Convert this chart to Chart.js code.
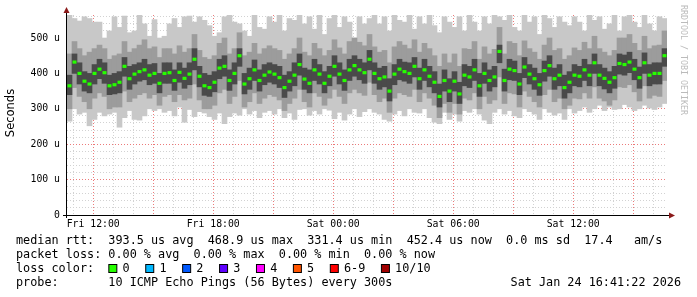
<!DOCTYPE html>
<html>
<head>
<meta charset="utf-8">
<script src="https://cdn.jsdelivr.net/npm/chart.js@4.4.1/dist/chart.umd.min.js"></script>
<style>
    html, body { margin: 0; padding: 0; background: #ffffff; }
    canvas { display: block; }
</style>
</head>
<body>
<canvas id="smokeChart" width="697" height="297"></canvas>
<script>
"use strict";

// time axis in minutes since Fri 00:00, one sample every 15 minutes
var startMin = 641.37; // Fri 10:41:22
var spanMin = 1800;
var stepMin = 15;

// median rtt (us)
var median = [
    365, 432, 400, 378, 370, 400, 412, 402, 365, 368,
    375, 420, 385, 398, 405, 410, 395, 400, 372, 400,
    402, 380, 403, 386, 398, 440, 392, 365, 360, 375,
    415, 420, 380, 400, 450, 370, 385, 410, 380, 395,
    404, 398, 388, 360, 378, 395, 425, 384, 372, 410,
    398, 372, 392, 420, 398, 380, 410, 422, 410, 402,
    440, 400, 385, 390, 350, 398, 412, 405, 400, 420,
    385, 410, 392, 375, 335, 380, 350, 378, 342, 395,
    390, 410, 365, 400, 380, 390, 462, 380, 412, 408,
    370, 418, 398, 385, 368, 408, 422, 385, 395, 360,
    375, 395, 392, 410, 395, 430, 395, 386, 375, 388,
    428, 425, 432, 412, 388, 430, 395, 400, 400, 450
];

// smoke: inner (dark) band
var innerHi = [
    395, 455, 430, 405, 400, 425, 440, 430, 395, 400,
    405, 445, 420, 425, 430, 440, 425, 428, 400, 430,
    430, 410, 430, 415, 430, 470, 420, 400, 395, 405,
    440, 450, 410, 430, 470, 400, 415, 438, 410, 425,
    430, 425, 420, 395, 405, 430, 455, 415, 410, 440,
    425, 405, 420, 450, 430, 410, 440, 450, 440, 430,
    465, 430, 415, 420, 385, 425, 440, 432, 430, 445,
    415, 440, 420, 405, 370, 410, 385, 405, 375, 425,
    420, 440, 400, 430, 410, 420, 480, 412, 440, 435,
    400, 445, 425, 415, 400, 435, 450, 415, 425, 395,
    405, 425, 420, 440, 425, 455, 425, 415, 405, 420,
    455, 452, 460, 440, 418, 458, 425, 430, 430, 470
];
var innerLo = [
    340, 400, 370, 350, 345, 370, 385, 372, 340, 342,
    345, 392, 355, 370, 378, 382, 368, 372, 345, 372,
    372, 352, 375, 358, 368, 410, 362, 338, 335, 348,
    385, 392, 352, 370, 420, 342, 355, 380, 350, 368,
    375, 370, 360, 332, 350, 365, 395, 355, 345, 380,
    370, 345, 365, 392, 370, 352, 380, 392, 382, 372,
    410, 372, 355, 362, 322, 368, 382, 378, 372, 390,
    355, 380, 362, 345, 305, 350, 320, 350, 315, 365,
    360, 380, 335, 372, 350, 362, 430, 350, 382, 380,
    340, 388, 370, 355, 338, 378, 392, 355, 365, 330,
    345, 365, 362, 380, 365, 400, 365, 356, 345, 358,
    398, 395, 402, 382, 358, 400, 365, 370, 370, 420
];

// smoke: middle band
var midHi = [
    455, 490, 470, 450, 460, 470, 480, 470, 440, 450,
    455, 490, 460, 470, 480, 495, 470, 475, 445, 470,
    470, 455, 478, 460, 470, 510, 465, 445, 440, 450,
    485, 500, 455, 470, 515, 450, 460, 485, 455, 470,
    478, 470, 465, 440, 455, 470, 500, 460, 450, 485,
    470, 450, 465, 495, 472, 455, 490, 500, 488, 478,
    510, 475, 460, 465, 430, 475, 490, 480, 470, 495,
    460, 485, 470, 450, 420, 455, 430, 455, 420, 470,
    468, 490, 440, 475, 455, 468, 530, 455, 490, 485,
    450, 492, 470, 460, 440, 480, 500, 465, 470, 440,
    450, 472, 465, 488, 470, 505, 470, 460, 450, 465,
    500, 500, 510, 485, 465, 505, 470, 478, 480, 520
];
var midLo = [
    300, 360, 335, 320, 300, 330, 345, 335, 300, 305,
    305, 350, 320, 330, 340, 345, 330, 340, 310, 335,
    340, 320, 340, 325, 330, 370, 325, 300, 300, 310,
    345, 355, 315, 335, 380, 305, 320, 345, 315, 330,
    340, 335, 325, 295, 315, 330, 355, 320, 305, 345,
    335, 310, 330, 355, 335, 315, 345, 355, 345, 338,
    375, 340, 320, 330, 290, 330, 345, 340, 335, 355,
    320, 345, 330, 310, 275, 315, 290, 315, 285, 330,
    325, 345, 300, 335, 315, 325, 390, 315, 345, 342,
    305, 350, 335, 320, 305, 340, 355, 320, 330, 300,
    310, 330, 328, 345, 330, 362, 330, 322, 310, 325,
    362, 360, 368, 348, 322, 365, 330, 338, 335, 380
];

// smoke: outer (light) band
var outerHi = [
    565, 555, 548, 560, 555, 545, 545, 500, 520, 560,
    530, 562, 515, 520, 565, 540, 505, 552, 500, 505,
    540, 555, 530, 560, 562, 545, 560, 550, 535, 505,
    515, 560, 565, 545, 540, 520, 505, 565, 530, 525,
    560, 545, 565, 520, 555, 550, 565, 540, 560, 525,
    565, 510, 555, 565, 530, 560, 545, 500, 560, 540,
    555, 565, 540, 560, 520, 565, 550, 545, 565, 525,
    560, 540, 565, 535, 515, 560, 545, 530, 560, 520,
    565, 545, 520, 560, 540, 565, 560, 550, 565, 530,
    520, 565, 545, 560, 510, 565, 555, 530, 560, 545,
    535, 560, 545, 520, 565, 550, 560, 525, 540, 565,
    520, 560, 565, 545, 530, 565, 540, 520, 560, 555
];
var outerLo = [
    265, 300, 285, 290, 252, 270, 290, 280, 285, 290,
    248, 275, 295, 270, 268, 280, 300, 295, 300, 290,
    295, 280, 305, 262, 298, 278, 292, 288, 278, 270,
    288, 258, 278, 288, 282, 300, 285, 295, 275, 290,
    295, 285, 300, 275, 288, 270, 298, 300, 282, 295,
    285, 300, 296, 272, 290, 268, 285, 300, 278, 292,
    300, 290, 285, 270, 265, 285, 295, 280, 300, 290,
    288, 300, 275, 262, 258, 290, 270, 285, 265, 295,
    290, 300, 285, 268, 258, 290, 300, 285, 295, 280,
    275, 300, 292, 285, 270, 300, 290, 282, 288, 270,
    300, 288, 295, 305, 290, 300, 310, 295, 305, 298,
    300, 312, 305, 295, 300, 310, 302, 298, 305, 315
];

var lossColors = ["#26ff00", "#00b8ff", "#0059ff", "#5e00ff", "#ff00ff", "#ff5500", "#ff0000", "#a00000"];
var lossLabels = ["0", "1", "2", "3", "4", "5", "6-9", "10/10"];

var legendLines = [
    "median rtt:  393.5 us avg  468.9 us max  331.4 us min  452.4 us now  0.0 ms sd  17.4   am/s",
    "packet loss: 0.00 % avg  0.00 % max  0.00 % min  0.00 % now",
    "loss color:",
    "probe:       10 ICMP Echo Pings (56 Bytes) every 300s"
];
var stampText = "Sat Jan 24 16:41:22 2026";

var times = median.map(function (v, i) { return startMin + (i + 0.5) * stepMin; });

function band(lo, hi) {
    return lo.map(function (v, i) { return { x: times[i], y: [v, hi[i]] }; });
}

var medianBlocks = median.map(function (m, i) { return { x: times[i], y: [m - 4.5, m + 4.5] }; });

function timeLabel(v) {
    var day = v < 1440 ? "Fri" : "Sat";
    var h = Math.floor((v % 1440) / 60);
    return day + " " + (h < 10 ? "0" + h : h) + ":00";
}

var mono = "'DejaVu Sans Mono', monospace";

// ------------------------------------------------------- //
// rrdtool decoration: axes, arrows, legend, watermark
// ------------------------------------------------------ //
var rrdDecor = {
    id: "rrdDecor",
    afterDraw: function (chart) {
        var ctx = chart.ctx;
        var a = chart.chartArea;
        ctx.save();

        ctx.strokeStyle = "#000000";
        ctx.lineWidth = 1;
        ctx.beginPath();
        ctx.moveTo(a.left - 0.5, a.bottom + 3);
        ctx.lineTo(a.left - 0.5, a.top - 3);
        ctx.moveTo(a.left - 4, a.bottom + 0.5);
        ctx.lineTo(a.right + 2, a.bottom + 0.5);
        ctx.stroke();

        ctx.fillStyle = "#8b1a1a";
        ctx.beginPath();
        ctx.moveTo(a.left - 3.5, a.top - 2);
        ctx.lineTo(a.left + 2.5, a.top - 2);
        ctx.lineTo(a.left - 0.5, a.top - 8);
        ctx.closePath();
        ctx.fill();
        ctx.beginPath();
        ctx.moveTo(a.right + 2, a.bottom - 2.5);
        ctx.lineTo(a.right + 2, a.bottom + 3.5);
        ctx.lineTo(a.right + 8, a.bottom + 0.5);
        ctx.closePath();
        ctx.fill();

        // y title
        ctx.fillStyle = "#000000";
        ctx.font = "11.5px 'DejaVu Sans', sans-serif";
        ctx.textAlign = "center";
        ctx.textBaseline = "middle";
        ctx.save();
        ctx.translate(11, 113);
        ctx.rotate(-Math.PI / 2);
        ctx.fillText("Seconds", 0, 0);
        ctx.restore();

        // watermark
        ctx.save();
        ctx.fillStyle = "#bbbbbb";
        ctx.font = "8.3px " + mono;
        ctx.textAlign = "left";
        ctx.translate(683, 5);
        ctx.rotate(Math.PI / 2);
        ctx.fillText("RRDTOOL / TOBI OETIKER", 0, 0);
        ctx.restore();

        // legend
        ctx.font = "11.8px " + mono;
        ctx.textAlign = "left";
        ctx.fillStyle = "#000000";
        var rows = [241, 255, 269, 283];
        legendLines.forEach(function (t, i) { ctx.fillText(t, 16, rows[i]); });

        var cw = ctx.measureText("0").width;
        var x = 16 + cw * 13;
        lossColors.forEach(function (c, i) {
            ctx.fillStyle = c;
            ctx.fillRect(x + 0.5, rows[2] - 4.5, 8, 8);
            ctx.strokeStyle = "#000000";
            ctx.strokeRect(x + 0.5, rows[2] - 4.5, 8, 8);
            ctx.fillStyle = "#000000";
            ctx.fillText(lossLabels[i], x + cw * 2, rows[2]);
            x += cw * (lossLabels[i].length + 4) + 1.4;
        });

        ctx.textAlign = "right";
        ctx.fillText(stampText, 681, rows[3]);
        ctx.restore();
    }
};

var gridGray = "#d2d2d2";
var gridRed = "#ec7a7a";

var SMOKE = document.getElementById("smokeChart");
var smokeChart = new Chart(SMOKE, {
    type: "bar",
    data: {
        datasets: [
            { label: "median", data: medianBlocks, backgroundColor: "#26ff00", grouped: false, barPercentage: 0.8, categoryPercentage: 1, borderWidth: 0 },
            { label: "inner", data: band(innerLo, innerHi), backgroundColor: "#4a4a4a", grouped: false, barPercentage: 1, categoryPercentage: 1, borderWidth: 0 },
            { label: "middle", data: band(midLo, midHi), backgroundColor: "#9c9c9c", grouped: false, barPercentage: 1, categoryPercentage: 1, borderWidth: 0 },
            { label: "outer", data: band(outerLo, outerHi), backgroundColor: "#c8c8c8", grouped: false, barPercentage: 1, categoryPercentage: 1, borderWidth: 0 }
        ]
    },
    options: {
        responsive: false,
        animation: false,
        devicePixelRatio: 1,
        layout: { padding: { left: 0, right: 30, top: 15, bottom: 62 } },
        plugins: { legend: { display: false }, tooltip: { enabled: false } },
        scales: {
            x: {
                type: "linear",
                offset: false,
                min: startMin,
                max: startMin + spanMin,
                z: 1,
                afterBuildTicks: function (scale) {
                    var t = [];
                    for (var v = 660; v < startMin + spanMin; v += 60) { t.push({ value: v }); }
                    scale.ticks = t;
                },
                afterFit: function (scale) {
                    scale.height = 20;
                    scale.paddingLeft = 0;
                    scale.paddingRight = 0;
                },
                grid: {
                    offset: false,
                    drawTicks: false,
                    color: function (c) {
                        return (c.tick && Math.round(c.tick.value / 60) % 3 === 0) ? gridRed : gridGray;
                    }
                },
                border: { display: false, dash: [1, 2] },
                ticks: {
                    autoSkip: false,
                    maxRotation: 0,
                    padding: 4,
                    color: "#000000",
                    font: { family: mono, size: 9.8 },
                    callback: function (v) {
                        return Math.round(v / 60) % 6 === 0 ? timeLabel(v) : "";
                    }
                }
            },
            y: {
                min: 0,
                max: 565,
                z: 1,
                afterBuildTicks: function (scale) {
                    var t = [];
                    for (var v = 0; v <= 560; v += 20) { t.push({ value: v }); }
                    scale.ticks = t;
                },
                afterFit: function (scale) {
                    scale.width = 67;
                    scale.paddingTop = 0;
                    scale.paddingBottom = 0;
                },
                grid: {
                    drawTicks: false,
                    color: function (c) {
                        return (c.tick && Math.round(c.tick.value) % 100 === 0) ? gridRed : gridGray;
                    }
                },
                border: { display: false, dash: [1, 2] },
                ticks: {
                    autoSkip: false,
                    padding: 7,
                    color: "#000000",
                    font: { family: mono, size: 9.8 },
                    callback: function (v) {
                        var r = Math.round(v);
                        if (r % 100 !== 0) return "";
                        return r === 0 ? "0" : r + " u";
                    }
                }
            }
        }
    },
    plugins: [rrdDecor]
});
</script>
</body>
</html>
